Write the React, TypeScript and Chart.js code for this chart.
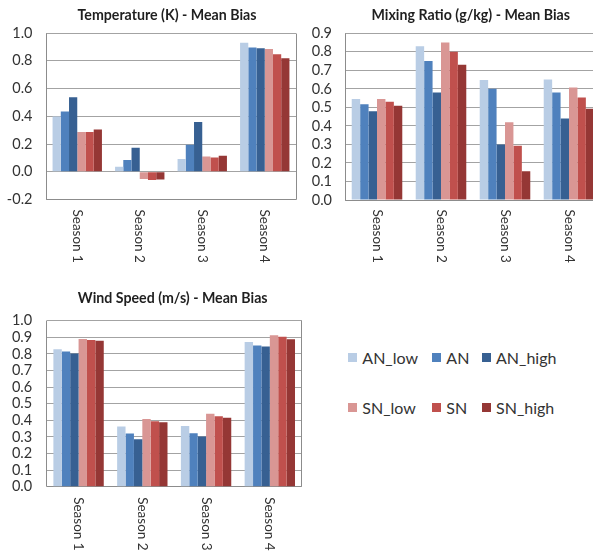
import React, { useEffect, useRef } from "react";
import { Chart, registerables } from "chart.js";

Chart.register(...registerables);

// ---------- data ----------
const seasons = ["Season 1", "Season 2", "Season 3", "Season 4"];
const seriesNames = ["AN_low", "AN", "AN_high", "SN_low", "SN", "SN_high"];
const seriesColors = ["#b9cde5", "#4f81bd", "#376092", "#d99694", "#c0504d", "#953735"];

// Temperature (K) - Mean Bias
const tempAnLow = [0.398, 0.036, 0.092, 0.93];
const tempAn = [0.434, 0.084, 0.194, 0.895];
const tempAnHigh = [0.537, 0.173, 0.358, 0.89];
const tempSnLow = [0.286, -0.052, 0.11, 0.885];
const tempSn = [0.286, -0.06, 0.103, 0.847];
const tempSnHigh = [0.304, -0.055, 0.115, 0.818];
const tempTicks = [-0.2, 0.0, 0.2, 0.4, 0.6, 0.8, 1.0];

// Mixing Ratio (g/kg) - Mean Bias
const mixAnLow = [0.545, 0.83, 0.648, 0.65];
const mixAn = [0.517, 0.75, 0.6, 0.58];
const mixAnHigh = [0.479, 0.58, 0.3, 0.44];
const mixSnLow = [0.545, 0.85, 0.42, 0.608];
const mixSn = [0.531, 0.8, 0.293, 0.554];
const mixSnHigh = [0.509, 0.73, 0.155, 0.493];
const mixTicks = [0.0, 0.1, 0.2, 0.3, 0.4, 0.5, 0.6, 0.7, 0.8, 0.9];

// Wind Speed (m/s) - Mean Bias
const windAnLow = [0.828, 0.362, 0.366, 0.872];
const windAn = [0.814, 0.32, 0.322, 0.85];
const windAnHigh = [0.803, 0.286, 0.303, 0.845];
const windSnLow = [0.89, 0.408, 0.44, 0.913];
const windSn = [0.884, 0.394, 0.425, 0.903];
const windSnHigh = [0.879, 0.388, 0.415, 0.888];
const windTicks = [0.0, 0.1, 0.2, 0.3, 0.4, 0.5, 0.6, 0.7, 0.8, 0.9, 1.0];

// ---------- styling ----------
const FONT = "Lato, 'DejaVu Sans', sans-serif";
const GRID = "#a3a3a3";
const AXIS = "#8c8c8c";
const TEXT = "#333333";

const align = (p: number) => Math.round(p - 0.5) + 0.5;

const panelPlugin = {
  id: "panel",
  beforeDatasetsDraw(chart: any, _args: any, opts: any) {
    const { ctx, chartArea: a } = chart;
    ctx.save();
    ctx.strokeStyle = opts.frameColor;
    ctx.lineWidth = 1;
    ctx.beginPath();
    const l = align(a.left), r = align(a.right), t = align(a.top), b = align(a.bottom);
    ctx.moveTo(l, t);
    ctx.lineTo(l, b);
    ctx.lineTo(r, b);
    ctx.lineTo(r, t);
    ctx.stroke();
    ctx.restore();
  },
  afterDraw(chart: any, _args: any, opts: any) {
    const { ctx, chartArea: a } = chart;
    const xs = chart.scales.x;
    ctx.save();
    // title
    ctx.font = opts.titleFont;
    ctx.fillStyle = opts.titleColor;
    ctx.textAlign = "center";
    ctx.textBaseline = "middle";
    ctx.fillText(opts.title, opts.titleX, opts.titleY);
    // rotated category labels
    ctx.font = opts.labelFont;
    ctx.fillStyle = opts.labelColor;
    ctx.textAlign = "left";
    ctx.textBaseline = "middle";
    (chart.data.labels as string[]).forEach((lab, i) => {
      const x = xs.getPixelForTick(i);
      ctx.save();
      ctx.translate(x, a.bottom + opts.labelOffset);
      ctx.rotate(Math.PI / 2);
      ctx.fillText(lab, 0, 0);
      ctx.restore();
    });
    ctx.restore();
  },
};

type Spec = {
  title: string;
  series: number[][];
  ticks: number[];
  min: number;
  max: number;
  x: number;
  y: number;
  w: number;
  h: number;
  padTop: number;
  padR: number;
  yAxisW: number;
  xAxisH: number;
  tickPad: number;
  titleX: number;
  titleY: number;
  labelOffset: number;
};

function buildConfig(s: Spec): any {
  return {
    type: "bar",
    data: {
      labels: seasons,
      datasets: s.series.map((d, i) => ({
        label: seriesNames[i],
        data: d,
        backgroundColor: seriesColors[i],
        borderWidth: 0,
        categoryPercentage: 0.79,
        barPercentage: 1,
      })),
    },
    plugins: [panelPlugin],
    options: {
      responsive: false,
      animation: false,
      devicePixelRatio: 1,
      events: [],
      layout: { padding: { left: 0, right: s.padR, top: s.padTop, bottom: 0 } },
      plugins: {
        legend: { display: false },
        tooltip: { enabled: false },
        title: { display: false },
        panel: {
          frameColor: AXIS,
          title: s.title,
          titleX: s.titleX,
          titleY: s.titleY,
          titleFont: `bold 14.2px ${FONT}`,
          titleColor: "#1f1f1f",
          labelFont: `13.5px ${FONT}`,
          labelColor: TEXT,
          labelOffset: s.labelOffset,
        },
      },
      scales: {
        x: {
          type: "category",
          grid: { display: false },
          border: { display: false },
          ticks: { display: false },
          afterFit: (sc: any) => {
            sc.height = s.xAxisH;
          },
        },
        y: {
          type: "linear",
          min: s.min,
          max: s.max,
          afterBuildTicks: (sc: any) => {
            sc.ticks = s.ticks.map((v) => ({ value: v }));
          },
          ticks: {
            autoSkip: false,
            callback: (v: any) => Number(v).toFixed(1),
            padding: s.tickPad,
            color: TEXT,
            font: { family: FONT, size: 14.5 },
          },
          grid: { color: GRID, drawTicks: false, lineWidth: 1 },
          border: { display: false },
          afterFit: (sc: any) => {
            sc.width = s.yAxisW;
          },
        },
      },
    },
  };
}

function Panel({ spec }: { spec: Spec }) {
  const ref = useRef<HTMLCanvasElement>(null);
  useEffect(() => {
    const chart = new Chart(ref.current as HTMLCanvasElement, buildConfig(spec));
    return () => chart.destroy();
  }, []);
  return (
    <canvas
      ref={ref}
      width={spec.w}
      height={spec.h}
      style={{ position: "absolute", left: spec.x, top: spec.y, width: spec.w, height: spec.h }}
    />
  );
}

const panels: Spec[] = [
  {
    title: "Temperature (K) - Mean Bias",
    series: [tempAnLow, tempAn, tempAnHigh, tempSnLow, tempSn, tempSnHigh],
    ticks: tempTicks,
    min: -0.2,
    max: 1.0,
    x: 0,
    y: 0,
    w: 300,
    h: 270,
    padTop: 33,
    padR: 4,
    yAxisW: 46,
    xAxisH: 70.5,
    tickPad: 13.5,
    titleX: 167,
    titleY: 15.5,
    labelOffset: 10,
  },
  {
    title: "Mixing Ratio (g/kg) - Mean Bias",
    series: [mixAnLow, mixAn, mixAnHigh, mixSnLow, mixSn, mixSnHigh],
    ticks: mixTicks,
    min: 0,
    max: 0.9,
    x: 300,
    y: 0,
    w: 310,
    h: 270,
    padTop: 33.3,
    padR: 9,
    yAxisW: 45,
    xAxisH: 70,
    tickPad: 13,
    titleX: 170.8,
    titleY: 15.5,
    labelOffset: 9.5,
  },
  {
    title: "Wind Speed (m/s) - Mean Bias",
    series: [windAnLow, windAn, windAnHigh, windSnLow, windSn, windSnHigh],
    ticks: windTicks,
    min: 0,
    max: 1.0,
    x: 0,
    y: 280,
    w: 305,
    h: 272,
    padTop: 40.7,
    padR: 3.3,
    yAxisW: 46.7,
    xAxisH: 65.3,
    tickPad: 14.5,
    titleX: 172.7,
    titleY: 18.8,
    labelOffset: 10.5,
  },
];

const legendCols = [348.3, 432.3, 482];
const legendRows = [357.8, 407.5];

function Legend() {
  return (
    <>
      {seriesNames.map((name, i) => {
        const cx = legendCols[i % 3];
        const cy = legendRows[Math.floor(i / 3)];
        return (
          <React.Fragment key={name}>
            <div
              style={{
                position: "absolute",
                left: cx,
                top: cy - 4.5,
                width: 9,
                height: 9,
                background: seriesColors[i],
              }}
            />
            <div
              style={{
                position: "absolute",
                left: cx + 14,
                top: cy - 10,
                height: 20,
                lineHeight: "20px",
                fontFamily: FONT,
                fontSize: 16,
                color: TEXT,
                whiteSpace: "nowrap",
              }}
            >
              {name}
            </div>
          </React.Fragment>
        );
      })}
    </>
  );
}

export default function App() {
  return (
    <div
      style={{
        position: "absolute",
        left: 0,
        top: 0,
        width: 593,
        height: 552,
        overflow: "hidden",
        background: "#ffffff",
      }}
    >
      {panels.map((p) => (
        <Panel key={p.title} spec={p} />
      ))}
      <Legend />
    </div>
  );
}
